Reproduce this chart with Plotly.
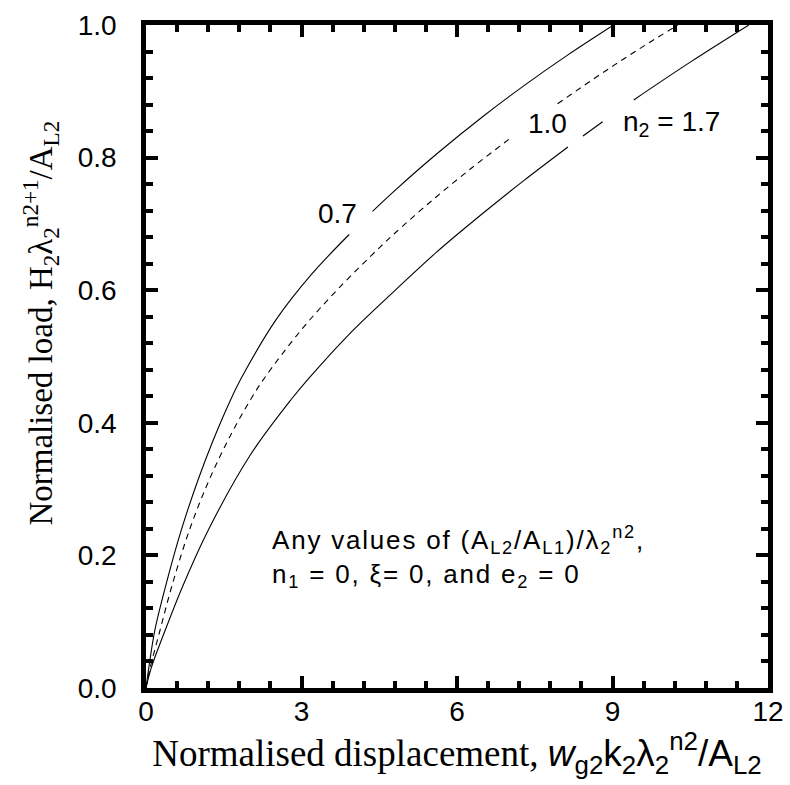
import plotly.graph_objects as go

# n2 = 0.7 (solid); None marks the gap left for the label
x_07 = [0, 0.05, 0.17, 0.4, 0.68, 1.0, 1.3, 1.64, 1.85, 2.5, 3.2, 3.92, None, 4.37, 4.81, 5.6, 6.5, 7.3, 8.14, 9.02]
y_07 = [0, 0.028, 0.087, 0.160, 0.238, 0.313, 0.3745, 0.436, 0.469, 0.5545, 0.6245, 0.684, None, 0.719, 0.751, 0.805, 0.862, 0.909, 0.955, 1.0]

# n2 = 1.0 (dashed)
x_10 = [0, 0.07, 0.27, 0.5, 0.83, 1.2, 1.6, 2.03, 2.29, 3.0, 3.7, 4.52, 4.81, 5.5, 6.3, 7.07, None, 7.94, 8.6, 9.16, 9.7, 10.26]
y_10 = [0, 0.027, 0.087, 0.154, 0.2365, 0.3105, 0.3765, 0.4367, 0.468, 0.5405, 0.6014, 0.6654, 0.6866, 0.7342, 0.7854, 0.8316, None, 0.8812, 0.9168, 0.946, 0.973, 1.0]

# n2 = 1.7 (solid)
x_17 = [0, 0.1, 0.37, 0.7, 1.2, 2.0, 2.82, 3.14, 3.9, 4.81, 5.6, 6.5, 7.3, 8.14, None, 8.43, 8.81, None, 9.41, 10.5, 11.63]
y_17 = [0, 0.030, 0.087, 0.152, 0.238, 0.350, 0.437, 0.467, 0.532, 0.600, 0.657, 0.716, 0.766, 0.816, None, 0.8325, 0.854, None, 0.887, 0.944, 1.0]

x_ticks = [0, 3, 6, 9, 12]
y_ticks = [0.0, 0.2, 0.4, 0.6, 0.8, 1.0]

fig = go.Figure()
for xs, ys, dash in [(x_07, y_07, "solid"), (x_10, y_10, "6px,5px"), (x_17, y_17, "solid")]:
    fig.add_trace(go.Scatter(x=xs, y=ys, mode="lines",
                             line=dict(color="black", width=1.1, dash=dash, shape="spline"),
                             connectgaps=False, showlegend=False))

sans = "Liberation Sans, Arial"
serif = "Liberation Serif, Times New Roman"
lab_font = dict(family=sans, size=28, color="black")
fig.add_annotation(x=3.69, y=0.716, text="0.7", showarrow=False, font=lab_font)
fig.add_annotation(x=7.75, y=0.852, text="1.0", showarrow=False, font=lab_font)
fig.add_annotation(x=9.16, y=0.852, text="n<sub>2</sub> = 1.7", showarrow=False, font=lab_font, xanchor="left")
fig.add_annotation(
    x=2.4, y=0.197, xanchor="left", yanchor="middle", align="left",
    text='<span style="letter-spacing:1.8px">Any values of (A<sub>L2</sub>/A<sub>L1</sub>)/λ<sub>2</sub><sup>n2</sup>,</span>'
         '<br><span style="letter-spacing:1.8px">n<sub>1</sub> = 0, ξ= 0, and e<sub>2</sub> = 0</span>',
    showarrow=False, font=dict(family=sans, size=26, color="black"))

# y-axis title placed as a rotated annotation (sits above the axis centre in the reference)
fig.add_annotation(
    xref="paper", yref="paper", x=-0.17, y=0.55, xanchor="center", yanchor="middle",
    textangle=-90, showarrow=False,
    text="Normalised load, H<sub>2</sub>λ<sub>2</sub><sup>n2+1</sup>/A<sub>L2</sub>",
    font=dict(family=serif, size=33, color="black"))

tick_font = dict(family=sans, size=28, color="black")
axis_style = dict(
    showgrid=False, zeroline=False, showline=True, linecolor="black", linewidth=4.5,
    mirror="ticks", ticks="inside", ticklen=12, tickwidth=4, tickcolor="black",
    tickfont=tick_font,
)

fig.update_layout(
    template="none",
    width=790, height=785, margin=dict(l=146, r=22, t=25, b=97),
    plot_bgcolor="white", paper_bgcolor="white",
    xaxis=dict(
        range=[0, 12], tickmode="array", tickvals=x_ticks, ticktext=[str(v) for v in x_ticks],
        ticklabelstandoff=-5,
        minor=dict(tickmode="linear", tick0=0, dtick=0.6, ticklen=7, tickwidth=4,
                   tickcolor="black", ticks="inside", showgrid=False),
        title=dict(text='Normalised displacement, <span style="font-family:Liberation Sans"><i>w</i><sub>g2</sub>k<sub>2</sub>λ<sub>2</sub><sup>n2</sup>/A<sub>L2</sub></span>',
                   font=dict(family=serif, size=37, color="black"), standoff=0),
        **axis_style,
    ),
    yaxis=dict(
        range=[0, 1], tickmode="array", tickvals=y_ticks, ticktext=[f"{v:.1f}" for v in y_ticks],
        ticklabelstandoff=19,
        minor=dict(tickmode="linear", tick0=0, dtick=0.04, ticklen=7, tickwidth=4,
                   tickcolor="black", ticks="inside", showgrid=False),
        **axis_style,
    ),
)
fig.write_html("out.html")
